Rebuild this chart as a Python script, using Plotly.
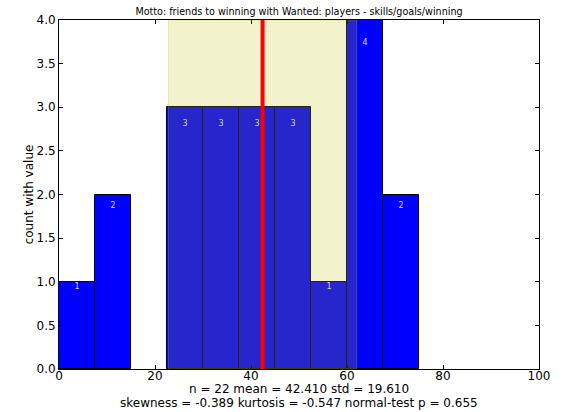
import plotly.graph_objects as go

bin_edges = [0, 7.5, 15, 22.5, 30, 37.5, 45, 52.5, 60, 67.5, 75]
counts = [1, 2, 0, 3, 3, 3, 3, 1, 4, 2]
mean_val = 42.41
std_val = 19.61
n_val = 22
skewness = -0.389
kurtosis = -0.547
normal_p = 0.655
title = "Motto: friends to winning with Wanted: players - skills/goals/winning"
y_label = "count with value"

centers = [(a + b) / 2 for a, b in zip(bin_edges[:-1], bin_edges[1:])]
widths = [b - a for a, b in zip(bin_edges[:-1], bin_edges[1:])]

FONT = "DejaVu Sans"
fig = go.Figure()
fig.add_trace(go.Bar(
    x=centers, y=counts, width=widths,
    marker=dict(color="#0000ff",
                line=dict(color="black", width=[1 if v > 0 else 0 for v in counts])),
    hoverinfo="skip", showlegend=False,
))
lab_x = [c for c, v in zip(centers, counts) if v > 0]
lab_y = [v * 0.935 for v in counts if v > 0]
lab_t = [str(v) for v in counts if v > 0]
fig.add_trace(go.Scatter(
    x=lab_x, y=lab_y, text=lab_t, mode="text",
    textfont=dict(family=FONT, size=8, color="rgba(235,235,255,0.95)"),
    showlegend=False, hoverinfo="skip",
))
# mean ± std span
fig.add_shape(type="rect", xref="x", yref="y",
              x0=mean_val - std_val, x1=mean_val + std_val, y0=0, y1=4,
              fillcolor="rgba(191,191,0,0.2)", line=dict(color="rgba(191,191,0,0.3)", width=1),
              layer="above")
fig.add_shape(type="line", xref="x", yref="y",
              x0=mean_val, x1=mean_val, y0=0, y1=4,
              line=dict(color="red", width=4), layer="above")

fig.add_annotation(
    text=f"n = {n_val} mean = {mean_val:.3f} std = {std_val:.3f}",
    xref="paper", yref="paper", x=0.5, y=0, yshift=-20, showarrow=False,
    font=dict(family=FONT, size=12, color="black"), yanchor="middle")
fig.add_annotation(
    text=f"skewness = {skewness:.3f} kurtosis = {kurtosis:.3f} normal-test p = {normal_p:.3f}",
    xref="paper", yref="paper", x=0.5, y=0, yshift=-34, showarrow=False,
    font=dict(family=FONT, size=12, color="black"), yanchor="middle")

fig.update_layout(
    width=563, height=412,
    margin=dict(l=59, r=24, t=20, b=43, autoexpand=False),
    paper_bgcolor="white", plot_bgcolor="white",
    font=dict(family=FONT, size=12, color="black"),
    title=dict(text=title, x=0.5, xanchor="center", xref="paper",
               y=1 - 12 / 412, yref="container", yanchor="middle",
               font=dict(family=FONT, size=9.6, color="black")),
    bargap=0,
    xaxis=dict(range=[0, 100], dtick=20, tick0=0, ticks="inside", ticklen=4,
               tickcolor="black", showline=True, linecolor="black", linewidth=1,
               mirror="ticks", showgrid=False, zeroline=False, automargin=False,
               ticklabelstandoff=-4,
               tickfont=dict(family=FONT, size=12)),
    yaxis=dict(range=[0, 4], dtick=0.5, tick0=0, tickformat=".1f", ticks="inside",
               ticklen=4, tickcolor="black", showline=True, linecolor="black",
               linewidth=1, mirror="ticks", showgrid=False, zeroline=False,
               automargin=False, tickfont=dict(family=FONT, size=12),
               title=dict(text=y_label, font=dict(family=FONT, size=12), standoff=0)),
)
fig.write_html("out.html", config={"displayModeBar": False},
               post_script="document.body.style.margin='0';")
